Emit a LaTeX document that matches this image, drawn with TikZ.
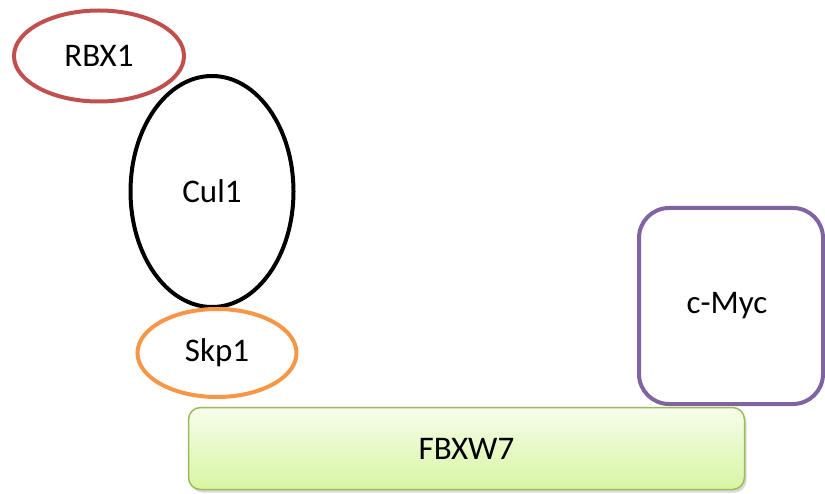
\documentclass[tikz,border=0pt]{standalone}
\usepackage{fontspec}
\setmainfont{Carlito}
\usetikzlibrary{shapes.geometric,shadows}
\definecolor{rbxred}{HTML}{C0504D}
\definecolor{skporange}{HTML}{F79646}
\definecolor{mycpurple}{HTML}{8064A2}
\definecolor{fbxborder}{HTML}{9BBB59}
\definecolor{fbxtop}{HTML}{F6FDEB}
\definecolor{fbxbot}{HTML}{D8F5A2}
\begin{document}
\begin{tikzpicture}[x=1pt,y=-1pt,
  lbl/.style={font=\fontsize{33}{39}\selectfont, text=black},
  oval/.style={ellipse, line width=4pt, inner sep=0pt, lbl}]
\useasboundingbox (0,0) rectangle (825,494);
\node[oval, draw=rbxred, minimum width=170pt, minimum height=91pt] (rbx) at (99,56) {RBX1};
\node[oval, draw=black, minimum width=163pt, minimum height=231pt] (cul) at (212,191.5) {Cul1};
\node[oval, draw=skporange, minimum width=159pt, minimum height=88pt] (skp) at (217,353) {Skp1};
\node[draw=mycpurple, line width=4pt, rounded corners=30pt, minimum width=184pt, minimum height=196pt, lbl] (myc) at (731,306) {};
\node[lbl] (myct) at (727,306) {c-Myc};
\node[draw=fbxborder, line width=1.5pt, rounded corners=12pt, top color=fbxtop, bottom color=fbxbot,
  drop shadow={shadow xshift=2pt, shadow yshift=-3pt, opacity=0.3},
  minimum width=556pt, minimum height=82pt, lbl] (fbx) at (466.5,448.5) {FBXW7};
\end{tikzpicture}
\end{document}
